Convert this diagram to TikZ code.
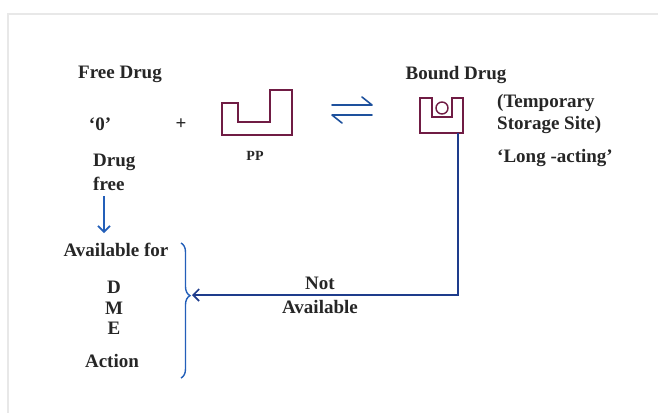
\documentclass[tikz,border=0pt]{standalone}
\usepackage{fontspec}
\setmainfont{Liberation Serif}
\usetikzlibrary{arrows.meta,decorations.pathreplacing}
\definecolor{maroon}{RGB}{112,28,68}
\definecolor{blu}{RGB}{35,95,185}
\definecolor{navyc}{RGB}{30,60,140}
\begin{document}
\begin{tikzpicture}[x=1pt,y=-1pt,
  txt/.style={font=\fontsize{19}{21}\selectfont\bfseries, inner sep=0pt, text=black!85},
  small/.style={font=\fontsize{14}{16}\selectfont\bfseries, inner sep=0pt, text=black!85},
  site/.style={draw=maroon, line width=1.6pt, line join=miter},
  conn/.style={draw=navyc, line width=1.6pt, -{Straight Barb[length=6pt,width=12pt,line width=1.6pt]}},
  bluearrow/.style={draw=blu, line width=1.6pt, -{Straight Barb[length=6pt,width=12pt,line width=1.6pt]}},
  harp/.style={draw=blu!85!black, line width=1.6pt, line cap=round, line join=round}]
\useasboundingbox (0,0) rectangle (658,413);
\fill[white] (0,0) rectangle (658,413);
\draw[gray!18, line width=1.5pt] (8,413) -- (8,14) -- (658,14);

% left column
\node[txt] (free) at (120,74) {Free Drug};
\node[txt] (zero) at (100,124) {`0'};
\node[txt] (plus) at (181,124) {+};
\node[txt, anchor=west] (drug) at (93,162) {Drug};
\node[txt, anchor=west] (freew) at (93,184) {free};
\coordinate (a1) at (104,196);
\coordinate (a2) at (104,233);
\draw[bluearrow] (a1) -- (a2);
\node[txt] (avail) at (116,250) {Available for};
\node[txt] (D) at (114,287) {D};
\node[txt] (M) at (114,308) {M};
\node[txt] (E) at (114,328) {E};
\node[txt] (action) at (112,361) {Action};

% brace
\coordinate (bt) at (181,243);
\coordinate (bb) at (181,378);
\draw[blu, line width=1.4pt, decorate, decoration={brace, amplitude=9pt, aspect=0.39}] (bt) -- (bb);
\coordinate (btip) at (192,295);

% PP site
\draw[site] (222,103) -- (238,103) -- (238,122) -- (270,122) -- (270,90) -- (292,90) -- (292,135) -- (222,135) -- cycle;
\node[small] (pp) at (255,156) {PP};

% equilibrium harpoons
\coordinate (h1) at (332,105);
\coordinate (h2) at (372,105);
\coordinate (h3) at (332,115);
\coordinate (h4) at (372,115);
\draw[harp] (h1) -- (h2) -- ++(-10,-8);
\draw[harp] (h4) -- (h3) -- ++(10,8);

% bound drug
\node[txt] (bound) at (456,75) {Bound Drug};
\draw[site] (420,98) -- (432,98) -- (432,117) -- (452,117) -- (452,98) -- (463,98) -- (463,133) -- (420,133) -- cycle;
\draw[site, line width=1.4pt] (442,108) circle (6pt);
\node[txt, anchor=west] (temp) at (497,103) {(Temporary};
\node[txt, anchor=west] (stor) at (497,125) {Storage Site)};
\node[txt] (long) at (555,158) {`Long -acting'};

% not available connector
\coordinate (c0) at (458,133);
\coordinate (c1) at (458,295);
\draw[conn] (c0) -- (c1) -- (btip);
\node[txt] (notn) at (320,283) {Not};
\node[txt] (notav) at (320,307) {Available};
\end{tikzpicture}
\end{document}
